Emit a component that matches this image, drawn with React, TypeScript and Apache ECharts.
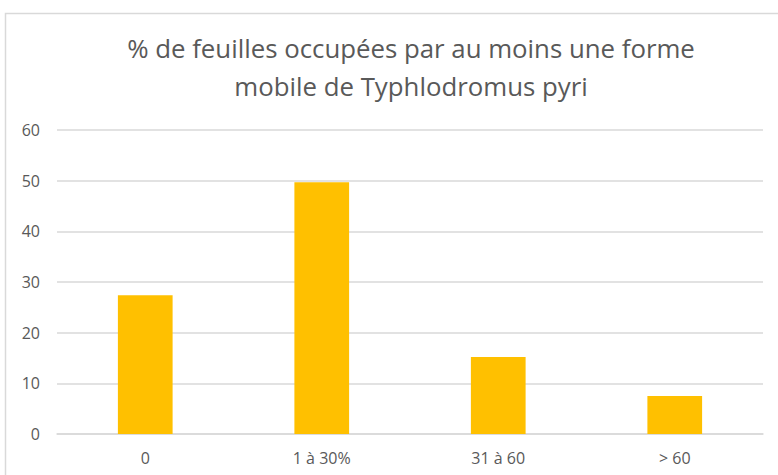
import React, { useEffect, useRef } from "react";
import * as echarts from "echarts";

const categories = ["0", "1 à 30%", "31 à 60", "> 60"];
const values = [27.4, 49.7, 15.2, 7.5];
const yTicks = { min: 0, max: 60, interval: 10 };
const titleText = "% de feuilles occupées par au moins une forme\nmobile de Typhlodromus pyri";

export default function App() {
  const ref = useRef<HTMLDivElement>(null);
  useEffect(() => {
    if (!ref.current) return;
    const chart = echarts.init(ref.current, undefined, { renderer: "svg" });
    chart.setOption({
      animation: false,
      backgroundColor: "#ffffff",
      title: {
        text: titleText,
        left: 406,
        top: 24,
        textAlign: "center",
        textStyle: {
          fontFamily: "Open Sans",
          fontSize: 25.8,
          fontWeight: "normal",
          color: "#595959",
          lineHeight: 38,
        },
      },
      graphic: [
        {
          type: "rect",
          shape: { x: 5.5, y: 13.5, width: 800, height: 500 },
          style: { fill: "none", stroke: "#d9d9d9", lineWidth: 1.5 },
          silent: true,
        },
      ],
      grid: { left: 57, right: 15, top: 130, bottom: 41, containLabel: false },
      xAxis: {
        type: "category",
        data: categories,
        axisLine: { show: true, lineStyle: { color: "#d9d9d9", width: 1.5 } },
        axisTick: { show: false },
        axisLabel: { color: "#595959", fontSize: 16, fontFamily: "Open Sans", margin: 16 },
      },
      yAxis: {
        type: "value",
        min: yTicks.min,
        max: yTicks.max,
        interval: yTicks.interval,
        axisLine: { show: false },
        axisTick: { show: false },
        splitLine: { lineStyle: { color: "#d9d9d9", width: 1.5 } },
        axisLabel: { color: "#595959", fontSize: 16, fontFamily: "Open Sans", margin: 17 },
      },
      series: [
        {
          type: "bar",
          data: values,
          barWidth: "31%",
          itemStyle: { color: "#FFC000" },
        },
      ],
    });
    return () => chart.dispose();
  }, []);
  return (
    <div
      ref={ref}
      style={{ position: "fixed", left: 0, top: 0, width: 778, height: 475 }}
    />
  );
}
